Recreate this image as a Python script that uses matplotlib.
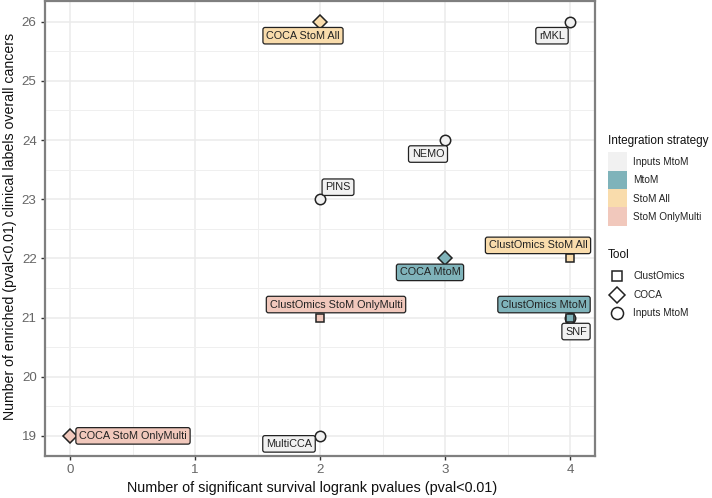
import matplotlib
matplotlib.use('Agg')
import matplotlib.pyplot as plt
from matplotlib.lines import Line2D
from matplotlib.patches import Rectangle

plt.rcParams['font.family'] = ['Liberation Sans', 'DejaVu Sans']

names = ['SNF', 'COCA StoM All', 'rMKL', 'NEMO', 'PINS', 'ClustOmics StoM All', 'COCA MtoM',
         'ClustOmics StoM OnlyMulti', 'ClustOmics MtoM', 'COCA StoM OnlyMulti', 'MultiCCA']
survival = [4, 2, 4, 3, 2, 4, 3, 2, 4, 0, 2]
clinical = [21, 26, 26, 24, 23, 22, 22, 21, 21, 19, 19]
tools = ['Inputs MtoM', 'COCA', 'Inputs MtoM', 'Inputs MtoM', 'Inputs MtoM', 'ClustOmics', 'COCA',
         'ClustOmics', 'ClustOmics', 'COCA', 'Inputs MtoM']
strategies = ['Inputs MtoM', 'StoM All', 'Inputs MtoM', 'Inputs MtoM', 'Inputs MtoM', 'StoM All', 'MtoM',
              'StoM OnlyMulti', 'MtoM', 'StoM OnlyMulti', 'Inputs MtoM']

strategy_names = ['Inputs MtoM', 'MtoM', 'StoM All', 'StoM OnlyMulti']
strategy_colors = ['#F1F1F1', '#7FB3BA', '#F9DCAC', '#F1C8BC']
tool_names = ['ClustOmics', 'COCA', 'Inputs MtoM']
tool_markers = ['s', 'D', 'o']
tool_sizes = [6.4, 6.8, 7.5]

# label box offsets from the point, in pixels (x right, y up)
label_offsets = [(6, -14), (-17, -14), (-18, -14), (-17, -14), (18, 12), (-32, 13), (-15, -14),
                 (16, 13), (-26, 13), (63, 0), (-31, -8)]

W, H = 712, 498
fig = plt.figure(figsize=(W / 100, H / 100), dpi=100)
ax = fig.add_axes([45 / W, 1 - 456 / H, 550 / W, 455 / H])

color_of = dict(zip(strategy_names, strategy_colors))
marker_of = dict(zip(tool_names, tool_markers))
size_of = dict(zip(tool_names, tool_sizes))

for i in range(len(names)):
    ax.plot(survival[i], clinical[i], marker=marker_of[tools[i]], ms=size_of[tools[i]],
            mfc=color_of[strategies[i]], mec='#222222', mew=1.1, ls='none', zorder=3, clip_on=False)
    dx, dy = label_offsets[i]
    ax.annotate(names[i], xy=(survival[i], clinical[i]), xytext=(dx * 0.72, dy * 0.72),
                textcoords='offset points', ha='center', va='center', fontsize=7.8, color='#222222',
                bbox=dict(boxstyle='round,pad=0.3,rounding_size=0.2', fc=color_of[strategies[i]],
                          ec='#222222', lw=0.9), zorder=4)

ax.set_xlim(-0.2, 4.2)
ax.set_ylim(18.66, 26.35)
ax.set_xticks([0, 1, 2, 3, 4])
ax.set_yticks([19, 20, 21, 22, 23, 24, 25, 26])
ax.set_xticks([0.5, 1.5, 2.5, 3.5], minor=True)
ax.set_yticks([19.5, 20.5, 21.5, 22.5, 23.5, 24.5, 25.5], minor=True)
ax.grid(True, which='major', color='#EBEBEB', lw=1.1)
ax.grid(True, which='minor', color='#EFEFEF', lw=0.7)
ax.set_axisbelow(True)
ax.tick_params(which='minor', length=0)
ax.tick_params(which='major', length=3, width=1, color='#333333', labelcolor='#666666', labelsize=9.6, pad=3)
for s in ax.spines.values():
    s.set_color('#7F7F7F')
    s.set_linewidth(1.6)


def fx(px):
    return px / W


def fy(py):
    return 1 - py / H


fig.text(fx(312), fy(488), 'Number of significant survival logrank pvalues (pval<0.01)', fontsize=10.4,
         ha='center', va='center', color='#111111')
fig.text(fx(10), fy(226), 'Number of enriched (pval<0.01) clinical labels overall cancers', fontsize=10.15,
         ha='center', va='center', rotation=90, color='#111111')

# legends are drawn by hand to keep the ggplot look
fig.text(fx(608), fy(141), 'Integration strategy', fontsize=8.5, va='center', color='#111111')
for i in range(len(strategy_names)):
    top = 152 + i * 18.5
    fig.add_artist(Rectangle((fx(608), fy(top + 18.5)), 18.5 / W, 18.5 / H, fc=strategy_colors[i], ec='none',
                             transform=fig.transFigure))
    fig.text(fx(633), fy(top + 9.5), strategy_names[i], fontsize=7.2, va='center', color='#222222')

fig.text(fx(608), fy(255), 'Tool', fontsize=8.5, va='center', color='#111111')
for i in range(len(tool_names)):
    y = 276 + i * 18.5
    fig.add_artist(Line2D([fx(617)], [fy(y)], marker=tool_markers[i], ms=tool_sizes[i] + 1.2, mfc='white',
                          mec='#222222', mew=1.1, ls='none', transform=fig.transFigure))
    fig.text(fx(633), fy(y), tool_names[i], fontsize=7.2, va='center', color='#222222')

fig.savefig('out.png', dpi=100)
